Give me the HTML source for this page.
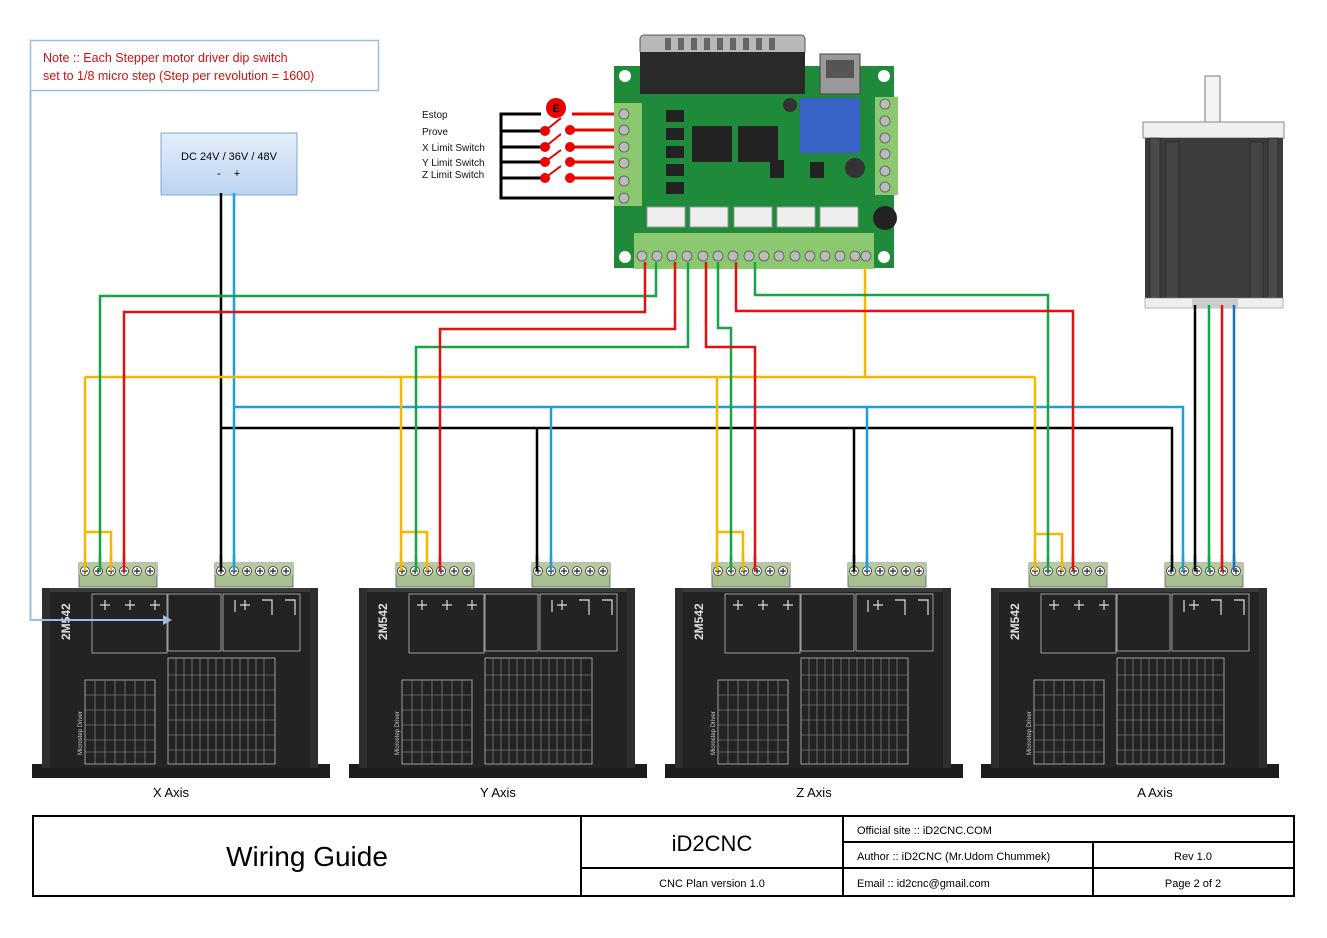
<!DOCTYPE html>
<html><head><meta charset="utf-8"><style>
html,body{margin:0;padding:0;background:#fff;width:1327px;height:938px;overflow:hidden}
svg{display:block}
text{font-family:"Liberation Sans",sans-serif}
</style></head><body>
<svg width="1327" height="938" viewBox="0 0 1327 938" xmlns="http://www.w3.org/2000/svg">
<defs>
<linearGradient id="dcg" x1="0" y1="0" x2="0" y2="1"><stop offset="0" stop-color="#e4eefa"/><stop offset="1" stop-color="#bcd3f0"/></linearGradient>
<g id="tb">
 <rect x="0" y="0" width="78" height="24" fill="#a8c090" stroke="#556" stroke-width="0.8"/>
 <rect x="0" y="0" width="78" height="12" fill="#b6cc9e"/>
 <g fill="#fff" stroke="#333" stroke-width="0.8">
  <circle cx="6" cy="8" r="4.5"/><circle cx="19" cy="8" r="4.5"/><circle cx="32" cy="8" r="4.5"/><circle cx="45" cy="8" r="4.5"/><circle cx="58" cy="8" r="4.5"/><circle cx="71" cy="8" r="4.5"/>
 </g>
 <g stroke="#222" stroke-width="1.2">
  <path d="M3 8h6M6 5v6M16 8h6M19 5v6M29 8h6M32 5v6M42 8h6M45 5v6M55 8h6M58 5v6M68 8h6M71 5v6"/>
 </g>
</g>
<g id="drv">
 <rect x="32" y="764" width="298" height="14" fill="#1c1c1c"/>
 <rect x="42" y="588" width="276" height="180" fill="#232323"/>
 <rect x="42" y="588" width="276" height="4" fill="#3a3a3a"/>
 <rect x="42" y="588" width="8" height="180" fill="#2e2e2e"/>
 <rect x="310" y="588" width="8" height="180" fill="#2e2e2e"/>
 <g fill="none" stroke="#bbb" stroke-width="0.8">
  <rect x="92" y="594" width="75" height="59"/>
  <rect x="168" y="594" width="53" height="57"/>
  <rect x="223" y="594" width="77" height="57"/>
  <rect x="168" y="658" width="107" height="106"/>
  <rect x="85" y="680" width="70" height="84"/>
 </g>
 <g stroke="#999" stroke-width="0.6">
  <path d="M176 658v106M184 658v106M192 658v106M200 658v106M208 658v106M216 658v106M224 658v106M232 658v106M240 658v106M248 658v106M256 658v106M264 658v106"/>
  <path d="M168 675h107M168 690h107M168 705h107M168 720h107M168 735h107M168 750h107"/>
  <path d="M95 680v84M105 680v84M115 680v84M125 680v84M135 680v84M145 680v84"/>
  <path d="M85 695h70M85 710h70M85 725h70M85 740h70M85 752h70"/>
 </g>
 <g stroke="#ddd" stroke-width="1.2" fill="none">
  <path d="M100 605h10M105 600v10M125 605h10M130 600v10M150 605h10M155 600v10"/>
  <path d="M235 600v12M240 605h10M245 600v10M262 600h10v15M285 600h10v15"/>
 </g>
</g>
</defs>

<!-- Note box -->
<rect x="30.5" y="40.5" width="348" height="50" fill="#fff" stroke="#9dbde0" stroke-width="1.5"/>
<text x="43" y="62" font-size="12.5" fill="#d01010">Note :: Each Stepper motor driver dip switch</text>
<text x="43" y="80" font-size="12.5" fill="#d01010">set to 1/8 micro step (Step per revolution = 1600)</text>
<path d="M30.5 91 V620 H165" fill="none" stroke="#9dbde0" stroke-width="2"/>

<!-- DC box -->
<rect x="161" y="133" width="136" height="62" fill="url(#dcg)" stroke="#7fa4d8" stroke-width="1"/>
<text x="229" y="160" font-size="11" text-anchor="middle">DC 24V / 36V / 48V</text>
<text x="219" y="177" font-size="11" text-anchor="middle">-</text>
<text x="237" y="177" font-size="11" text-anchor="middle">+</text>

<!-- switches -->
<g font-size="10" fill="#111">
<text x="422" y="118">Estop</text><text x="422" y="135">Prove</text><text x="422" y="151">X Limit Switch</text><text x="422" y="166">Y Limit Switch</text><text x="422" y="178">Z Limit Switch</text>
</g>
<g stroke="#000" stroke-width="3" fill="none">
<path d="M541 114 H501 V198 H616"/>
<path d="M501 131 H545M501 147 H545M501 162 H545M501 178 H545"/>
</g>
<g stroke="#e00" stroke-width="3" fill="none">
<path d="M572 114 H616M570 130 H616M570 147 H616M570 162 H616M570 178 H616"/>
<path d="M545 131 L561 118M545 147 L561 134M545 162 L561 150M545 178 L561 166" stroke-width="2"/>
</g>
<g fill="#e00">
<circle cx="545" cy="131" r="5"/><circle cx="545" cy="147" r="5"/><circle cx="545" cy="162" r="5"/><circle cx="545" cy="178" r="5"/>
<circle cx="570" cy="130" r="5"/><circle cx="570" cy="147" r="5"/><circle cx="570" cy="162" r="5"/><circle cx="570" cy="178" r="5"/>
<circle cx="556" cy="108" r="10"/>
</g>
<text x="556" y="112" font-size="11" font-weight="bold" text-anchor="middle">E</text>

<!-- BOB board -->
<rect x="614" y="66" width="280" height="202" fill="#1f8a3a"/>
<rect x="640" y="35" width="165" height="20" rx="4" fill="#b8b8b8" stroke="#555"/>
<rect x="640" y="52" width="165" height="42" fill="#2a2a2a"/>
<g fill="#666"><rect x="665" y="38" width="6" height="12"/><rect x="678" y="38" width="6" height="12"/><rect x="691" y="38" width="6" height="12"/><rect x="704" y="38" width="6" height="12"/><rect x="717" y="38" width="6" height="12"/><rect x="730" y="38" width="6" height="12"/><rect x="743" y="38" width="6" height="12"/><rect x="756" y="38" width="6" height="12"/><rect x="769" y="38" width="6" height="12"/></g>
<rect x="820" y="54" width="40" height="40" fill="#9a9a9a" stroke="#444"/>
<rect x="826" y="60" width="28" height="18" fill="#555"/>
<rect x="800" y="98" width="60" height="55" fill="#3a63c8"/>
<g fill="#fff"><circle cx="625" cy="76" r="6"/><circle cx="884" cy="76" r="6"/><circle cx="625" cy="257" r="6"/><circle cx="884" cy="257" r="6"/></g>
<g fill="#222">
<rect x="666" y="110" width="18" height="12"/><rect x="666" y="128" width="18" height="12"/><rect x="666" y="146" width="18" height="12"/><rect x="666" y="164" width="18" height="12"/><rect x="666" y="182" width="18" height="12"/>
<rect x="692" y="126" width="40" height="36"/><rect x="738" y="126" width="40" height="36"/>
<rect x="770" y="160" width="14" height="18"/><rect x="810" y="162" width="14" height="16"/>
</g>
<circle cx="855" cy="168" r="10" fill="#333"/><circle cx="790" cy="105" r="7" fill="#333"/><circle cx="885" cy="218" r="12" fill="#222"/>
<rect x="614" y="103" width="28" height="103" fill="#8cc870"/>
<g fill="#bbb" stroke="#555" stroke-width="0.8"><circle cx="624" cy="114" r="5"/><circle cx="624" cy="130" r="5"/><circle cx="624" cy="147" r="5"/><circle cx="624" cy="163" r="5"/><circle cx="624" cy="181" r="5"/><circle cx="624" cy="198" r="5"/></g>
<rect x="875" y="97" width="23" height="98" fill="#8cc870"/>
<g fill="#bbb" stroke="#555" stroke-width="0.8"><circle cx="885" cy="104" r="5"/><circle cx="885" cy="121" r="5"/><circle cx="885" cy="138" r="5"/><circle cx="885" cy="154" r="5"/><circle cx="885" cy="171" r="5"/><circle cx="885" cy="187" r="5"/></g>
<g fill="#eee" stroke="#999"><rect x="647" y="207" width="38" height="20"/><rect x="690" y="207" width="38" height="20"/><rect x="734" y="207" width="38" height="20"/><rect x="777" y="207" width="38" height="20"/><rect x="820" y="207" width="38" height="20"/></g>
<rect x="634" y="233" width="240" height="36" fill="#8cc870"/>
<g fill="#bbb" stroke="#555" stroke-width="0.8">
<circle cx="642" cy="256" r="5"/><circle cx="657" cy="256" r="5"/><circle cx="672" cy="256" r="5"/><circle cx="687" cy="256" r="5"/><circle cx="703" cy="256" r="5"/><circle cx="718" cy="256" r="5"/><circle cx="733" cy="256" r="5"/><circle cx="749" cy="256" r="5"/><circle cx="764" cy="256" r="5"/><circle cx="779" cy="256" r="5"/><circle cx="795" cy="256" r="5"/><circle cx="810" cy="256" r="5"/><circle cx="825" cy="256" r="5"/><circle cx="840" cy="256" r="5"/><circle cx="855" cy="256" r="5"/><circle cx="866" cy="256" r="5"/>
</g>

<!-- Motor -->
<rect x="1205" y="76" width="15" height="46" fill="#f4f4f4" stroke="#777"/>
<rect x="1143" y="122" width="141" height="16" fill="#f0f0f0" stroke="#888"/>
<rect x="1145" y="138" width="138" height="162" fill="#3c3c3c"/>
<rect x="1150" y="138" width="10" height="162" fill="#4a4a4a" stroke="#222" stroke-width="0.6"/>
<rect x="1166" y="142" width="13" height="158" fill="#444" stroke="#222" stroke-width="0.6"/>
<rect x="1250" y="142" width="13" height="158" fill="#444" stroke="#222" stroke-width="0.6"/>
<rect x="1268" y="138" width="10" height="162" fill="#4a4a4a" stroke="#222" stroke-width="0.6"/>
<rect x="1145" y="298" width="138" height="10" fill="#eee" stroke="#888" stroke-width="0.6"/>
<rect x="1192" y="298" width="46" height="10" fill="#ccc"/>

<!-- wires -->
<g fill="none" stroke-width="2.5">
<path d="M221 193 V565M221 428 H1172 V565M537 428 V565M854 428 V565" stroke="#000"/>
<path d="M234 193 V565M234 407 H1183 V565M551 407 V565M867 407 V565" stroke="#1aa0e0"/>
<path d="M865 268 V377 M85 377 H1035 M85 377 V565 M85 532 H111 V565 M401 377 V565 M401 532 H427 V565 M717 377 V565 M717 532 H743 V565 M1035 377 V565 M1035 534 H1062 V565" stroke="#f5b800"/>
<path d="M656 262 V296 H100 V565 M688 262 V347 H416 V565 M718 262 V328 H731 V565 M755 262 V295 H1048 V565" stroke="#16a34a"/>
<path d="M645 262 V312 H124 V565 M675 262 V329 H440 V565 M706 262 V347 H755 V565 M736 262 V311 H1073 V565" stroke="#e31010"/>
<path d="M1195 305 V565" stroke="#000"/>
<path d="M1209 305 V565" stroke="#16a34a"/>
<path d="M1222 305 V565" stroke="#e31010"/>
<path d="M1234 305 V565" stroke="#1a6fc0"/>
</g>

<!-- drivers -->
<g>
<use href="#drv"/><use href="#tb" x="79" y="563"/><use href="#tb" x="215" y="563"/>
<text transform="translate(70,640) rotate(-90)" font-size="12" font-weight="bold" fill="#ddd">2M542</text>
<text transform="translate(82,755) rotate(-90)" font-size="6" fill="#ccc">Microstep Driver</text>
<text x="171" y="797" font-size="13" text-anchor="middle">X Axis</text>
</g>
<g transform="translate(317,0)">
<use href="#drv"/><use href="#tb" x="79" y="563"/><use href="#tb" x="215" y="563"/>
<text transform="translate(70,640) rotate(-90)" font-size="12" font-weight="bold" fill="#ddd">2M542</text>
<text transform="translate(82,755) rotate(-90)" font-size="6" fill="#ccc">Microstep Driver</text>
<text x="181" y="797" font-size="13" text-anchor="middle">Y Axis</text>
</g>
<g transform="translate(633,0)">
<use href="#drv"/><use href="#tb" x="79" y="563"/><use href="#tb" x="215" y="563"/>
<text transform="translate(70,640) rotate(-90)" font-size="12" font-weight="bold" fill="#ddd">2M542</text>
<text transform="translate(82,755) rotate(-90)" font-size="6" fill="#ccc">Microstep Driver</text>
<text x="181" y="797" font-size="13" text-anchor="middle">Z Axis</text>
</g>
<g transform="translate(949,0)">
<use href="#drv"/><use href="#tb" x="80" y="563"/><use href="#tb" x="216" y="563"/>
<text transform="translate(70,640) rotate(-90)" font-size="12" font-weight="bold" fill="#ddd">2M542</text>
<text transform="translate(82,755) rotate(-90)" font-size="6" fill="#ccc">Microstep Driver</text>
<text x="206" y="797" font-size="13" text-anchor="middle">A Axis</text>
</g>
<!-- redraw wire ends over terminals -->
<g fill="none" stroke-width="2.5">
<path d="M85 555V571M111 555V571M427 555V571M743 555V571M1062 555V571M401 555V571M717 555V571M1035 555V571" stroke="#f5b800"/>
<path d="M100 555V571M416 555V571M731 555V571M1048 555V571M1209 555V571" stroke="#16a34a"/>
<path d="M124 555V571M440 555V571M755 555V571M1073 555V571M1222 555V571" stroke="#e31010"/>
<path d="M221 555V571M537 555V571M854 555V571M1172 555V571M1195 555V571" stroke="#000"/>
<path d="M234 555V571M551 555V571M867 555V571M1183 555V571" stroke="#1aa0e0"/>
<path d="M1234 555V571" stroke="#1a6fc0"/>
</g>
<path d="M30.5 620 H165" fill="none" stroke="#9dbde0" stroke-width="2"/>
<path d="M163 615 L172 620 L163 625 Z" fill="#9dbde0"/>

<!-- title block -->
<g fill="none" stroke="#000" stroke-width="2">
<rect x="33" y="816" width="1261" height="80"/>
<path d="M581 816V896M843 816V896M843 842H1294M581 868H1294M1093 842V896"/>
</g>
<text x="307" y="866" font-size="28" text-anchor="middle">Wiring Guide</text>
<text x="712" y="851" font-size="22" text-anchor="middle">iD2CNC</text>
<text x="712" y="887" font-size="11" text-anchor="middle">CNC Plan version 1.0</text>
<text x="857" y="834" font-size="11">Official site :: iD2CNC.COM</text>
<text x="857" y="860" font-size="11">Author :: iD2CNC (Mr.Udom Chummek)</text>
<text x="857" y="887" font-size="11">Email :: id2cnc@gmail.com</text>
<text x="1193" y="860" font-size="11" text-anchor="middle">Rev 1.0</text>
<text x="1193" y="887" font-size="11" text-anchor="middle">Page 2 of 2</text>
</svg>
</body></html>
